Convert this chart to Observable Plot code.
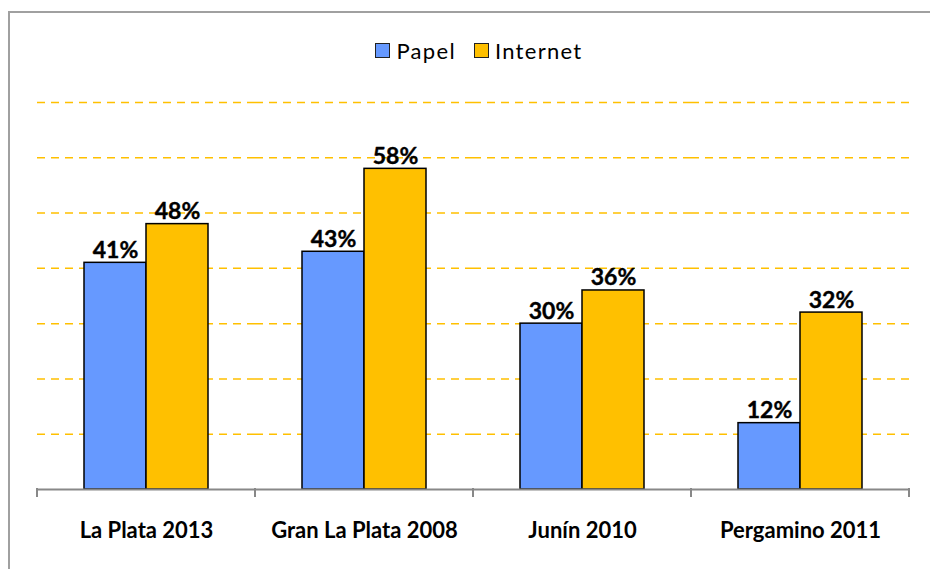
<!DOCTYPE html>
<html>
<head>
<meta charset="utf-8">
<script src="https://cdn.jsdelivr.net/npm/d3@7"></script>
<script src="https://cdn.jsdelivr.net/npm/@observablehq/plot@0.6"></script>
<style>
  html, body { margin: 0; padding: 0; background: #fff; }
  #wrap { position: relative; width: 930px; height: 569px; overflow: hidden; font-family: Lato, "Open Sans", sans-serif; }
  #border { position: absolute; left: 8px; top: 11px; width: 1000px; height: 1000px; border: 2px solid #a0a0a0; box-sizing: border-box; pointer-events: none; }
  #legend { height: 80px; box-sizing: border-box; padding-top: 20px; padding-left: 28px; display: flex; justify-content: center; align-items: center; font-size: 22px; letter-spacing: 1.3px; color: #000; }
  .item { display: flex; align-items: center; margin: 0 9px; }
  .sw { width: 13px; height: 13px; border: 1.5px solid #222; margin-right: 6px; }
  #chart svg { display: block; }
</style>
</head>
<body>
<div id="wrap">
  <div id="legend"></div>
  <div id="chart"></div>
  <div id="border"></div>
</div>
<script>
const categories = ["La Plata 2013", "Gran La Plata 2008", "Junín 2010", "Pergamino 2011"];
const series = ["Papel", "Internet"];
const papel = [41, 43, 30, 12];
const internet = [48, 58, 36, 32];
const gridTicks = [10, 20, 30, 40, 50, 60, 70];
const colors = ["#6699FF", "#FFC000"];

const data = categories.flatMap((c, i) => [
  {cat: c, s: "Papel", v: papel[i]},
  {cat: c, s: "Internet", v: internet[i]}
]);

// legend
const legend = document.getElementById("legend");
series.forEach((s, i) => {
  const it = document.createElement("div");
  it.className = "item";
  const sw = document.createElement("div");
  sw.className = "sw";
  sw.style.background = colors[i];
  const t = document.createElement("span");
  t.textContent = s;
  it.appendChild(sw); it.appendChild(t);
  legend.appendChild(it);
});

const chart = Plot.plot({
  width: 930,
  height: 489,
  marginTop: 22,
  marginBottom: 80,
  marginLeft: 36,
  marginRight: 20,
  style: {fontFamily: "Lato, 'Open Sans', sans-serif", background: "transparent"},
  fx: {domain: categories, padding: 0, label: null},
  x: {domain: series, paddingInner: 0, paddingOuter: 0.734, axis: null},
  y: {domain: [0, 70], axis: null},
  color: {domain: series, range: colors},
  marks: [
    Plot.ruleY(gridTicks, {stroke: "#FFC000", strokeWidth: 1.5, strokeDasharray: "8,6"}),
    Plot.barY(data, {fx: "cat", x: "s", y: "v", fill: "s", stroke: "#000", strokeWidth: 1.5}),
    Plot.text(data, {fx: "cat", x: "s", y: "v", text: d => d.v + "%", lineAnchor: "bottom", dy: -5, fontWeight: "bold", fontSize: 23, fill: "#000", stroke: "#000", strokeWidth: 0.4}),
    Plot.ruleY([0], {stroke: "#888", strokeWidth: 2}),
    Plot.axisFx({anchor: "bottom", tickSize: 0, tickPadding: 33, fontSize: 22, fontWeight: "bold", fill: "#000", stroke: "#000", strokeWidth: 0.3, label: null})
  ]
});

document.getElementById("chart").appendChild(chart);

// boundary ticks on the category axis, from Plot's own scales
const fxs = chart.scale("fx");
const ys = chart.scale("y");
const y0 = ys.apply(0);
const bounds = categories.map(c => fxs.apply(c));
bounds.push(fxs.apply(categories[categories.length - 1]) + fxs.bandwidth);
d3.select(chart).append("g")
  .selectAll("line").data(bounds).join("line")
  .attr("x1", d => d).attr("x2", d => d)
  .attr("y1", y0 - 1).attr("y2", y0 + 8)
  .attr("stroke", "#888").attr("stroke-width", 2);
</script>
</body>
</html>
